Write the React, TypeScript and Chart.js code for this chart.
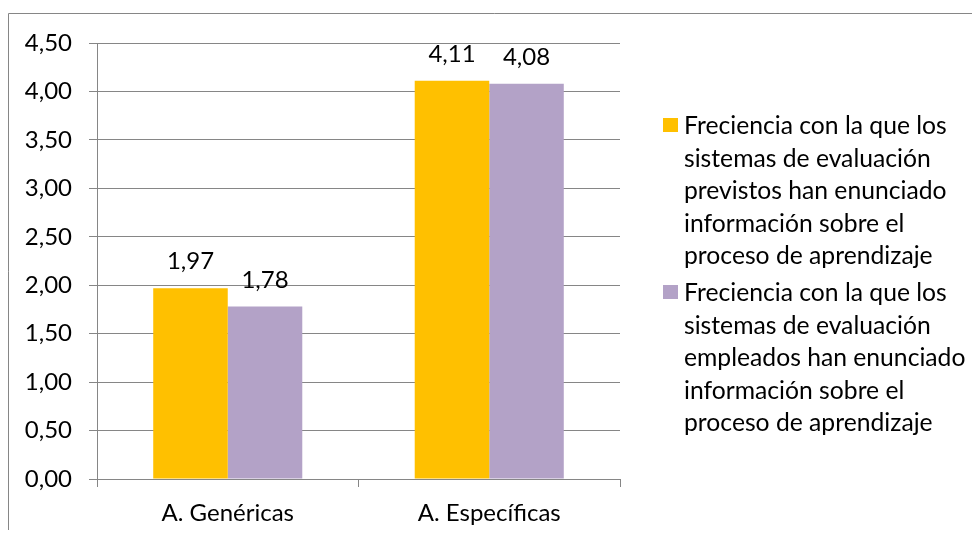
import React, { useEffect, useRef } from "react";
import { Chart, registerables } from "chart.js";

Chart.register(...registerables);

// Categories and series values
const CATEGORIES = ["A. Genéricas", "A. Específicas"];
const PREVISTOS = [1.97, 4.11];
const EMPLEADOS = [1.78, 4.08];

// Legend texts, already broken into lines
const PREVISTOS_LABEL = [
  "Freciencia con la que los",
  "sistemas de evaluación",
  "previstos han enunciado",
  "información sobre el",
  "proceso de aprendizaje",
];
const EMPLEADOS_LABEL = [
  "Freciencia con la que los",
  "sistemas de evaluación",
  "empleados han enunciado",
  "información sobre el",
  "proceso de aprendizaje",
];

const Y_MIN = 0;
const Y_MAX = 4.5;
const Y_STEP = 0.5;

const FONT_FAMILY = "Lato, 'Noto Sans', sans-serif";
const FONT_SIZE = 24;
const LEGEND_FONT_SIZE = 24.7;
const TEXT_COLOR = "#000000";
const LINE_COLOR = "#868686";
const COLORS = ["#FFC000", "#B3A2C7"];

const W = 972;
const H = 522;

const fmt = (v: number) => v.toFixed(2).replace(".", ",");

// Thin frame around the chart (left and top edges visible)
const framePlugin = {
  id: "frame",
  beforeDraw(chart: Chart) {
    const { ctx, width, height } = chart;
    ctx.save();
    ctx.strokeStyle = LINE_COLOR;
    ctx.lineWidth = 1;
    ctx.beginPath();
    ctx.moveTo(0.5, height);
    ctx.lineTo(0.5, 5.5);
    ctx.lineTo(width, 5.5);
    ctx.stroke();
    ctx.restore();
  },
};

// Value labels above each bar
const valueLabelsPlugin = {
  id: "valueLabels",
  afterDatasetsDraw(chart: Chart) {
    const { ctx } = chart;
    ctx.save();
    ctx.font = `${FONT_SIZE}px ${FONT_FAMILY}`;
    ctx.fillStyle = TEXT_COLOR;
    ctx.textAlign = "center";
    ctx.textBaseline = "alphabetic";
    chart.data.datasets.forEach((ds, di) => {
      const meta = chart.getDatasetMeta(di);
      meta.data.forEach((bar: any, i) => {
        const v = ds.data[i] as number;
        ctx.fillText(fmt(v), bar.x, bar.y - 19);
      });
    });
    ctx.restore();
  },
};

// Legend on the right with wrapped lines
const sideLegendPlugin = {
  id: "sideLegend",
  afterDraw(chart: Chart) {
    const { ctx, chartArea, height } = chart;
    const lineH = 32.6;
    const itemGap = 4;
    const box = 15;
    const items = chart.data.datasets.map((ds: any) => ({
      lines: ds.legendLines as string[],
      color: ds.backgroundColor as string,
    }));
    const totalLines = items.reduce((a, it) => a + it.lines.length, 0);
    const blockH = totalLines * lineH + itemGap * (items.length - 1);
    const boxX = chartArea.right + 43;
    const textX = boxX + 21;
    let baseline = (height - blockH) / 2 + 30;
    ctx.save();
    ctx.font = `${LEGEND_FONT_SIZE}px ${FONT_FAMILY}`;
    ctx.textAlign = "left";
    ctx.textBaseline = "alphabetic";
    items.forEach((it) => {
      ctx.fillStyle = it.color;
      ctx.fillRect(boxX, baseline - 16, box, box - 1);
      ctx.fillStyle = TEXT_COLOR;
      it.lines.forEach((ln, k) => {
        ctx.fillText(ln, textX, baseline + k * lineH);
      });
      baseline += it.lines.length * lineH + itemGap;
    });
    ctx.restore();
  },
};

export default function App() {
  const canvasRef = useRef<HTMLCanvasElement | null>(null);

  useEffect(() => {
    if (!canvasRef.current) return;
    const chart = new Chart(canvasRef.current, {
      type: "bar",
      data: {
        labels: CATEGORIES,
        datasets: [
          {
            label: PREVISTOS_LABEL.join(" "),
            data: PREVISTOS,
            backgroundColor: COLORS[0],
            legendLines: PREVISTOS_LABEL,
            barPercentage: 1,
            categoryPercentage: 0.57,
          } as any,
          {
            label: EMPLEADOS_LABEL.join(" "),
            data: EMPLEADOS,
            backgroundColor: COLORS[1],
            legendLines: EMPLEADOS_LABEL,
            barPercentage: 1,
            categoryPercentage: 0.57,
          } as any,
        ],
      },
      options: {
        responsive: false,
        animation: false,
        devicePixelRatio: 1,
        layout: { padding: { left: 0, top: 35, right: 360, bottom: 0 } },
        plugins: {
          legend: { display: false },
          tooltip: { enabled: false },
        },
        scales: {
          x: {
            grid: {
              offset: true,
              drawOnChartArea: false,
              drawTicks: true,
              tickLength: 8,
              color: LINE_COLOR,
            },
            border: { color: LINE_COLOR },
            ticks: {
              color: TEXT_COLOR,
              font: { family: FONT_FAMILY, size: FONT_SIZE },
              padding: 12,
            },
            afterFit: (s: any) => {
              s.height = 51;
            },
          },
          y: {
            min: Y_MIN,
            max: Y_MAX,
            grid: { color: LINE_COLOR, tickLength: 8 },
            border: { color: LINE_COLOR },
            ticks: {
              stepSize: Y_STEP,
              color: TEXT_COLOR,
              font: { family: FONT_FAMILY, size: FONT_SIZE },
              padding: 17,
              callback: (v: any) => fmt(Number(v)),
            },
            afterFit: (s: any) => {
              s.width = 89;
            },
          },
        },
      },
      plugins: [framePlugin, valueLabelsPlugin, sideLegendPlugin],
    });
    return () => chart.destroy();
  }, []);

  return (
    <div style={{ width: W, height: H }}>
      <canvas ref={canvasRef} width={W} height={H} style={{ display: "block", width: W, height: H }} />
    </div>
  );
}
